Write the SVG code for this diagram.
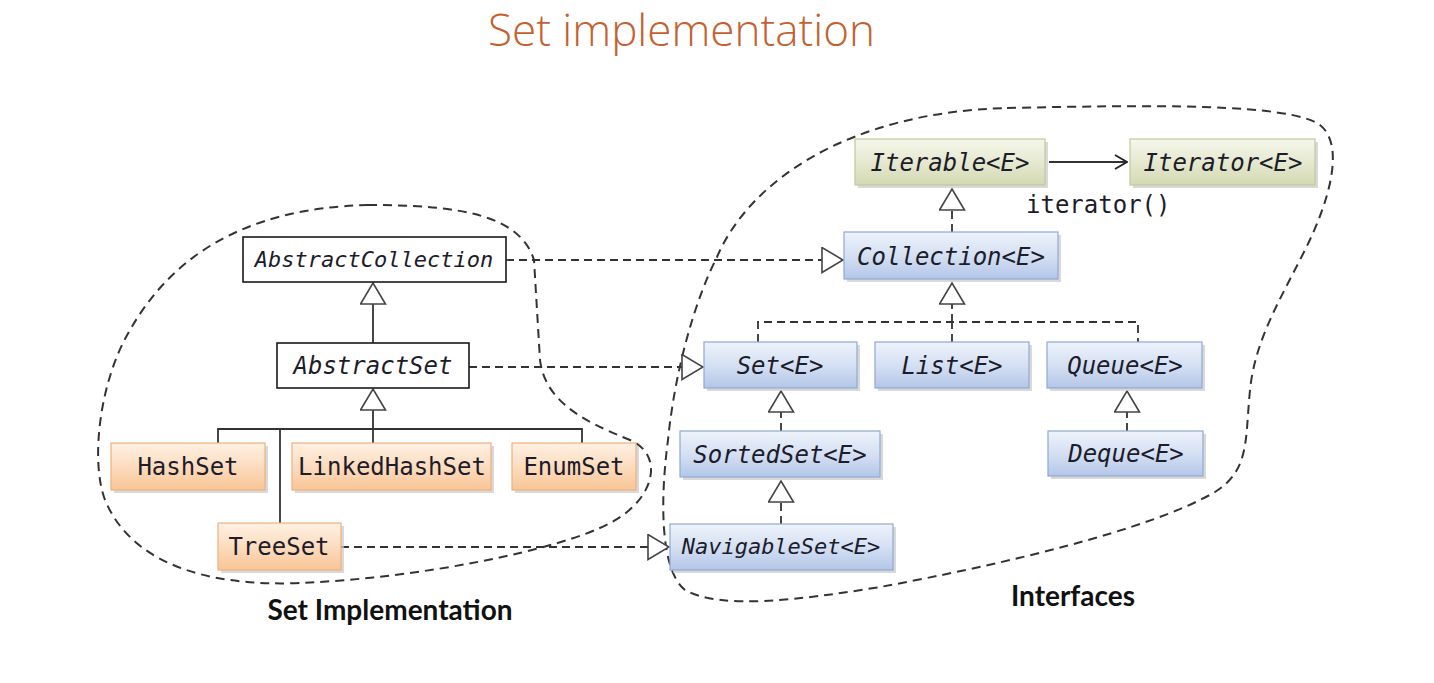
<svg xmlns="http://www.w3.org/2000/svg" width="1434" height="683" viewBox="0 0 1434 683">
<style>
.bg{fill:#ffffff}
.title{font-family:"Open Sans","Liberation Sans",sans-serif;font-weight:300;font-size:44px;fill:#C4612F}
.lbl{font-family:"Lato","Open Sans","Liberation Sans",sans-serif;font-weight:bold;font-size:28px;fill:#111}
.nt{font-family:"DejaVu Sans Mono","Liberation Mono",monospace;font-size:24px;fill:#1c1c2a;text-anchor:middle}
.it{font-style:italic}
.small{font-size:22px}
.shadow{fill:#c9c9c9;opacity:0.7}
.abs{fill:#ffffff;stroke:#1a1a1a;stroke-width:1.6}
.org{fill:url(#gOrg);stroke:#f0b07c;stroke-width:1.2}
.blu{fill:url(#gBlu);stroke:#8fa9d6;stroke-width:1.2}
.grn{fill:url(#gGrn);stroke:#c3c99c;stroke-width:1.2}
.solid{fill:none;stroke:#333;stroke-width:1.8}
.dash{fill:none;stroke:#333;stroke-width:1.8;stroke-dasharray:8,5}
.blob{fill:none;stroke:#333;stroke-width:2;stroke-dasharray:9,6}
.mono{font-family:"DejaVu Sans Mono","Liberation Mono",monospace;font-size:24px;fill:#1c1c2a}
</style>
<defs>
<linearGradient id="gOrg" x1="0" y1="0" x2="0" y2="1">
<stop offset="0" stop-color="#fff1e4"/><stop offset="0.5" stop-color="#fcdcbf"/><stop offset="1" stop-color="#f8c596"/>
</linearGradient>
<linearGradient id="gBlu" x1="0" y1="0" x2="0" y2="1">
<stop offset="0" stop-color="#eef3fb"/><stop offset="0.5" stop-color="#d5e0f3"/><stop offset="1" stop-color="#b3c6e8"/>
</linearGradient>
<linearGradient id="gGrn" x1="0" y1="0" x2="0" y2="1">
<stop offset="0" stop-color="#f6f7ec"/><stop offset="0.5" stop-color="#e6e9d0"/><stop offset="1" stop-color="#d3d9b2"/>
</linearGradient>
<marker id="tri" viewBox="0 0 23 27" refX="22" refY="13.5" markerWidth="23" markerHeight="27" markerUnits="userSpaceOnUse" orient="auto">
<path d="M1,1 L22,13.5 L1,26 Z" fill="#ffffff" stroke="#444" stroke-width="1.6" stroke-dasharray="none"/>
</marker>
<marker id="open" viewBox="0 0 14 16" refX="13" refY="8" markerWidth="14" markerHeight="16" markerUnits="userSpaceOnUse" orient="auto">
<path d="M1,1 L13,8 L1,15" fill="none" stroke="#222" stroke-width="1.8"/>
</marker>
</defs>
<rect class="bg" x="0" y="0" width="1434" height="683"/>
<text class="title" x="488" y="46">Set implementation</text>

<g id="boundaries">
<path class="blob" d="M368,205 C460,205 520,215 534,260 L540,360 C545,400 580,420 630,440 C665,455 655,500 610,523 C560,550 420,578 300,583 C200,587 130,560 105,500 C90,460 100,380 130,330 C170,260 240,208 368,205 Z"/>
<path class="blob" d="M1007,108 C1150,105 1290,103 1320,125 C1345,145 1330,200 1305,250 C1280,300 1255,340 1250,390 C1245,440 1250,470 1215,492 C1150,530 1000,565 880,587 C800,600 720,610 685,590 C660,570 660,500 668,440 C675,370 695,300 717,257 C750,180 850,112 1007,108 Z"/>
</g>
<text class="lbl" x="390" y="620" text-anchor="middle">Set Implementation</text>
<text class="lbl" x="1073" y="606" text-anchor="middle">Interfaces</text>

<g id="connectors">
<path class="dash" d="M506,260 H843" marker-end="url(#tri)"/>
<path class="dash" d="M469,367 H703" marker-end="url(#tri)"/>
<path class="dash" d="M341,547 H669" marker-end="url(#tri)"/>
<path class="solid" d="M373,343 V283" marker-end="url(#tri)"/>
<path class="solid" d="M373,443 V389" marker-end="url(#tri)"/>
<path class="solid" d="M218,443 V429 H582 V443"/>
<path class="solid" d="M280,429 V523"/>
<path class="dash" d="M952,232 V189" marker-end="url(#tri)"/>
<path class="dash" d="M952,322 V283" marker-end="url(#tri)"/>
<path class="dash" d="M758,342 V322 H1138 V342"/>
<path class="dash" d="M952,342 V322"/>
<path class="dash" d="M781,431 V391" marker-end="url(#tri)"/>
<path class="dash" d="M781,524 V481" marker-end="url(#tri)"/>
<path class="dash" d="M1127,431 V391" marker-end="url(#tri)"/>
<path class="solid" d="M1049,162 H1127" marker-end="url(#open)"/>
<text class="mono" x="1026" y="213">iterator()</text>
</g>

<g id="AbstractCollection">
<rect class="abs" x="243" y="237" width="263" height="45"/>
<text class="nt it small" x="374" y="267">AbstractCollection</text>
</g>
<g id="AbstractSet">
<rect class="abs" x="277" y="343" width="192" height="45"/>
<text class="nt it" x="373" y="374">AbstractSet</text>
</g>
<g id="HashSet">
<rect class="shadow" x="114" y="446" width="154" height="47"/>
<rect class="org" x="111" y="443" width="154" height="47"/>
<text class="nt" x="188" y="475">HashSet</text>
</g>
<g id="LinkedHashSet">
<rect class="shadow" x="295" y="446" width="199" height="47"/>
<rect class="org" x="292" y="443" width="199" height="47"/>
<text class="nt" x="392" y="475">LinkedHashSet</text>
</g>
<g id="EnumSet">
<rect class="shadow" x="515" y="446" width="124" height="47"/>
<rect class="org" x="512" y="443" width="124" height="47"/>
<text class="nt" x="574" y="475">EnumSet</text>
</g>
<g id="TreeSet">
<rect class="shadow" x="221" y="526" width="123" height="47"/>
<rect class="org" x="218" y="523" width="123" height="47"/>
<text class="nt" x="279" y="555">TreeSet</text>
</g>
<g id="Iterable">
<rect class="shadow" x="858" y="142" width="190" height="46"/>
<rect class="grn" x="855" y="139" width="190" height="46"/>
<text class="nt it" x="950" y="171">Iterable&lt;E&gt;</text>
</g>
<g id="Iterator">
<rect class="shadow" x="1133" y="142" width="185" height="46"/>
<rect class="grn" x="1130" y="139" width="185" height="46"/>
<text class="nt it" x="1223" y="171">Iterator&lt;E&gt;</text>
</g>
<g id="Collection">
<rect class="shadow" x="847" y="235" width="214" height="47"/>
<rect class="blu" x="844" y="232" width="214" height="47"/>
<text class="nt it" x="951" y="265">Collection&lt;E&gt;</text>
</g>
<g id="Set">
<rect class="shadow" x="707" y="345" width="153" height="46"/>
<rect class="blu" x="704" y="342" width="153" height="46"/>
<text class="nt it" x="780" y="374">Set&lt;E&gt;</text>
</g>
<g id="List">
<rect class="shadow" x="878" y="345" width="154" height="46"/>
<rect class="blu" x="875" y="342" width="154" height="46"/>
<text class="nt it" x="952" y="374">List&lt;E&gt;</text>
</g>
<g id="Queue">
<rect class="shadow" x="1050" y="345" width="155" height="46"/>
<rect class="blu" x="1047" y="342" width="155" height="46"/>
<text class="nt it" x="1125" y="374">Queue&lt;E&gt;</text>
</g>
<g id="SortedSet">
<rect class="shadow" x="683" y="434" width="200" height="46"/>
<rect class="blu" x="680" y="431" width="200" height="46"/>
<text class="nt it" x="780" y="463">SortedSet&lt;E&gt;</text>
</g>
<g id="Deque">
<rect class="shadow" x="1051" y="434" width="155" height="45"/>
<rect class="blu" x="1048" y="431" width="155" height="45"/>
<text class="nt it" x="1126" y="462">Deque&lt;E&gt;</text>
</g>
<g id="NavigableSet">
<rect class="shadow" x="673" y="527" width="223" height="46"/>
<rect class="blu" x="670" y="524" width="223" height="46"/>
<text class="nt it small" x="781" y="554">NavigableSet&lt;E&gt;</text>
</g>
</svg>
